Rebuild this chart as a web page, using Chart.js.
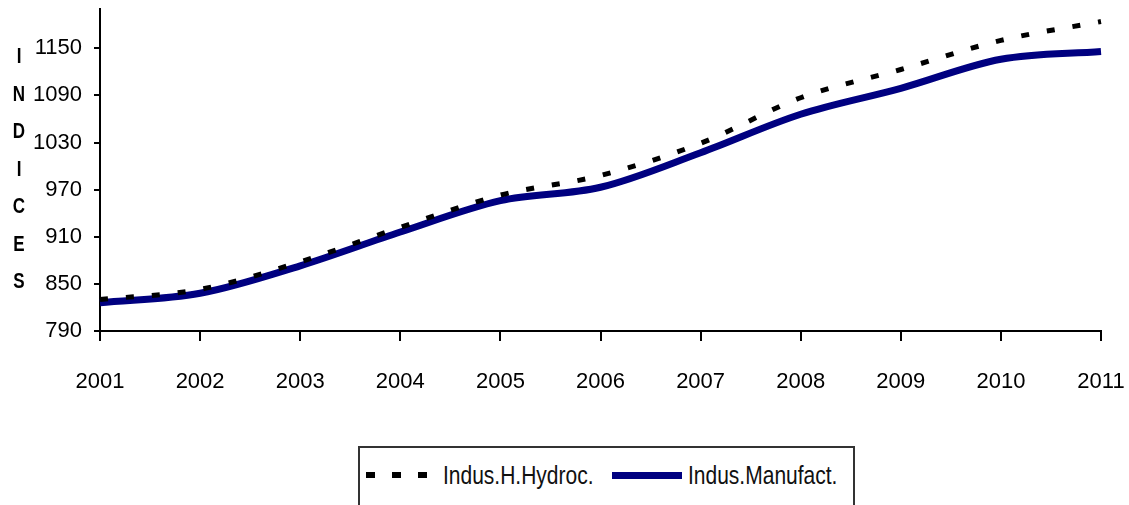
<!DOCTYPE html>
<html>
<head>
<meta charset="utf-8">
<script src="https://cdn.jsdelivr.net/npm/chart.js@4"></script>
<style>
    body { margin: 0; background: #fff; }
    #wrap { position: relative; width: 1129px; height: 505px; overflow: hidden; }
    #legend {
        position: absolute; left: 358px; top: 446px; width: 493px; height: 80px;
        border: 2px solid #333; background: #fff;
        font-family: 'Liberation Sans Narrow', 'Arial Narrow', 'Liberation Sans', sans-serif;
        font-size: 21px; color: #111;
    }
    .item { position: absolute; top: 13px; height: 28px; display: flex; align-items: center; }
    .lbl { display: inline-block; transform: scaleY(1.25); }
    .dots { width: 64px; height: 6px; margin-right: 13px;
        background: repeating-linear-gradient(90deg, #000 0 9px, transparent 9px 26px); }
    .solid { width: 70px; height: 7px; margin-right: 6px; background: #000080; }
</style>
</head>
<body>
<div id="wrap">
    <canvas id="lineChart" width="1129" height="505"></canvas>
    <div id="legend">
        <div class="item" style="left:6px"><span class="dots"></span><span class="lbl">Indus.H.Hydroc.</span></div>
        <div class="item" style="left:252px"><span class="solid"></span><span class="lbl">Indus.Manufact.</span></div>
    </div>
</div>
<script>
// 데이터
const years = ['2001', '2002', '2003', '2004', '2005', '2006', '2007', '2008', '2009', '2010', '2011'];
const hydroc = [830, 843, 878, 922, 963, 988, 1029, 1087, 1123, 1160, 1184];
const manufact = [826, 838, 873, 916, 956, 973, 1017, 1066, 1099, 1136, 1146];
const yTicks = [790, 850, 910, 970, 1030, 1090, 1150];
const axisTitle = ['I', 'N', 'D', 'I', 'C', 'E', 'S'];

const tickFont = { family: "'Liberation Sans', Arial, sans-serif", size: 22 };

// 세로로 쌓인 축 제목
const stackedTitle = {
    id: 'stackedTitle',
    afterDraw(chart) {
        const ctx = chart.ctx;
        ctx.save();
        ctx.fillStyle = '#000';
        ctx.font = "bold 17px 'Liberation Sans', Arial, sans-serif";
        ctx.textAlign = 'center';
        ctx.textBaseline = 'middle';
        axisTitle.forEach((ch, i) => {
            ctx.save();
            ctx.translate(19, 57 + i * 37.5);
            ctx.scale(1, 1.35);
            ctx.fillText(ch, 0, 0);
            ctx.restore();
        });
        ctx.restore();
    },
};

function drawChart() {
    const canvas = document.getElementById('lineChart').getContext('2d');

    new Chart(canvas, {
        type: 'line',
        data: {
            labels: years,
            datasets: [
                {
                    label: 'Indus.H.Hydroc.',
                    data: hydroc,
                    borderColor: '#000',
                    borderWidth: 5,
                    borderDash: [8, 18],
                    borderCapStyle: 'butt',
                    pointRadius: 0,
                    cubicInterpolationMode: 'monotone',
                    fill: false,
                },
                {
                    label: 'Indus.Manufact.',
                    data: manufact,
                    borderColor: '#000080',
                    borderWidth: 7,
                    pointRadius: 0,
                    cubicInterpolationMode: 'monotone',
                    fill: false,
                },
            ],
        },
        options: {
            responsive: false,
            animation: false,
            layout: { padding: { top: 9, right: 28, bottom: 104, left: 0 } },
            plugins: {
                legend: { display: false },
                tooltip: { enabled: false },
            },
            scales: {
                x: {
                    offset: false,
                    grid: { drawOnChartArea: false, color: '#000', lineWidth: 2, tickLength: 10 },
                    border: { color: '#000', width: 2 },
                    ticks: { color: '#000', font: tickFont, padding: 28, maxRotation: 0, autoSkip: false },
                    afterFit(scale) {
                        scale.height = 70;
                        scale.paddingLeft = 0;
                        scale.paddingRight = 0;
                    },
                },
                y: {
                    min: 790,
                    max: 1200,
                    grid: { drawOnChartArea: false, color: '#000', lineWidth: 2, tickLength: 6 },
                    border: { color: '#000', width: 2 },
                    ticks: {
                        color: '#000',
                        font: tickFont,
                        padding: 12,
                        callback: (value) => String(value),
                    },
                    afterBuildTicks(axis) { axis.ticks = yTicks.map((v) => ({ value: v })); },
                    afterFit(scale) {
                        scale.width = 100;
                        scale.paddingTop = 0;
                        scale.paddingBottom = 0;
                    },
                },
            },
        },
        plugins: [stackedTitle],
    });
}

document.addEventListener('DOMContentLoaded', () => {
    Promise.all([
        document.fonts.load("22px 'Liberation Sans'"),
        document.fonts.load("bold 17px 'Liberation Sans'"),
    ]).catch(() => {}).then(drawChart);
});
</script>
</body>
</html>
